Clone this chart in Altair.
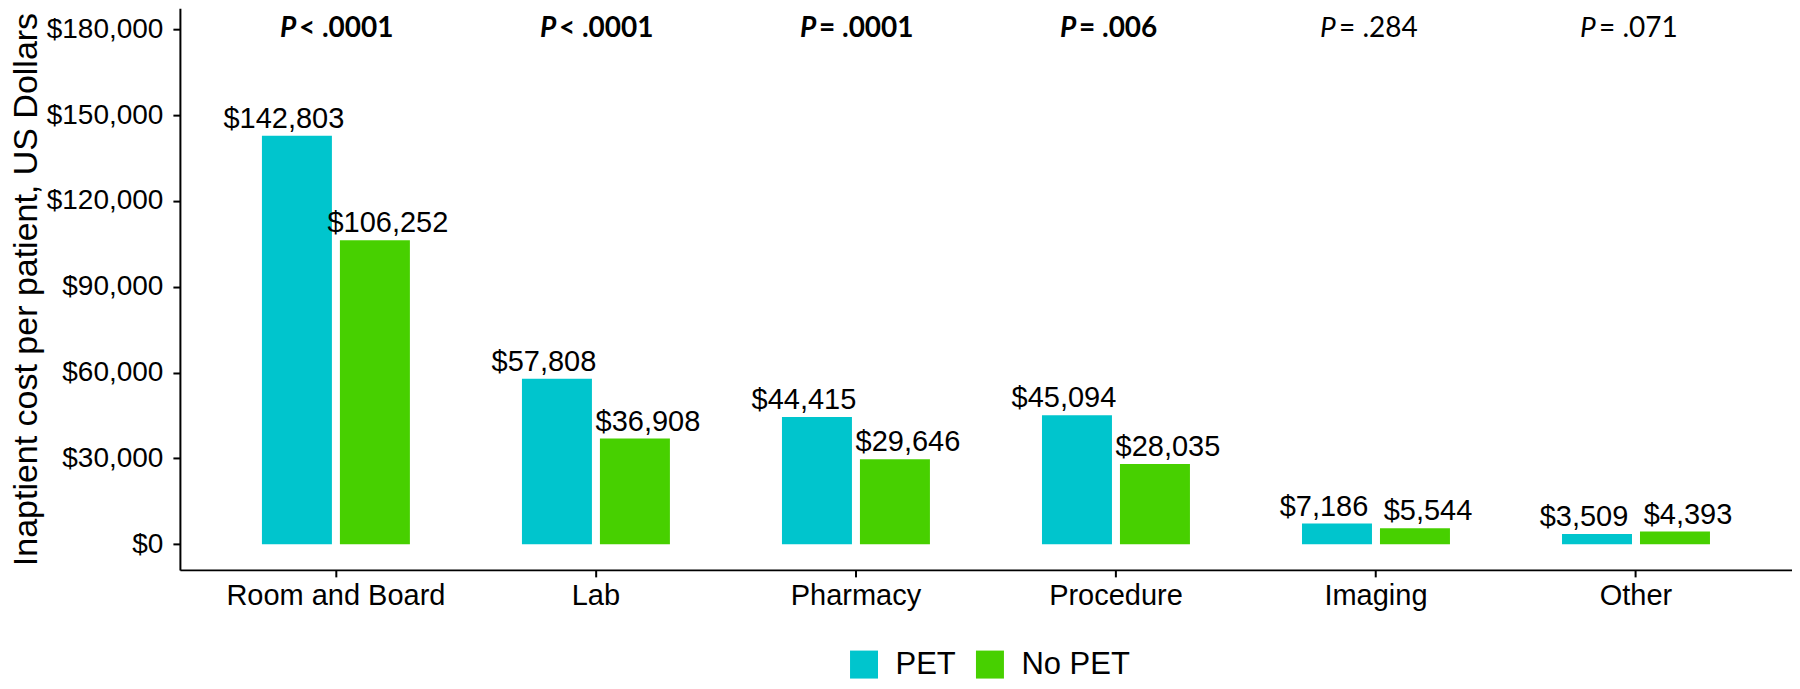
import altair as alt
import pandas as pd

categories = ["Room and Board", "Lab", "Pharmacy", "Procedure", "Imaging", "Other"]
pet_values = [142803, 57808, 44415, 45094, 7186, 3509]
nopet_values = [106252, 36908, 29646, 28035, 5544, 4393]
groups = ["PET", "No PET"]
p_rest = ["< .0001", "< .0001", "= .0001", "= .006", "= .284", "= .071"]
p_bold = [True, True, True, True, False, False]
y_ticks = [0, 30000, 60000, 90000, 120000, 150000, 180000]

rows = []
for c, a, b in zip(categories, pet_values, nopet_values):
    rows.append({"category": c, "group": "PET", "cost": a})
    rows.append({"category": c, "group": "No PET", "cost": b})
df = pd.DataFrame(rows)
pdf = pd.DataFrame({"category": categories, "rest": p_rest, "bold": p_bold, "P": ["P"] * 6})

FONT = "Liberation Sans"
PFONT = "Lato"

x_enc = alt.X("category:N", sort=categories,
              scale=alt.Scale(paddingInner=0.2, paddingOuter=0.2),
              axis=alt.Axis(title=None, labelAngle=0, labelFontSize=29, labelPadding=5,
                            labelLimit=0, labelFont=FONT, labelColor="black"))
y_enc = alt.Y("cost:Q",
              scale=alt.Scale(domain=[-9000, 187400], nice=False, zero=False),
              axis=alt.Axis(title="Inaptient cost per patient, US Dollars", values=y_ticks,
                            format="$,.0f", labelFontSize=28, labelFont=FONT, labelPadding=10,
                            titleFontSize=34, titleFont=FONT, titleFontWeight="normal",
                            titlePadding=3, titleColor="black", labelColor="black"))

color_enc = alt.Color("group:N", sort=groups,
                      scale=alt.Scale(domain=groups, range=["#00C5CD", "#47D000"]),
                      legend=alt.Legend(title=None, orient="none", legendX=669, legendY=641,
                                        direction="horizontal", symbolType="square",
                                        symbolSize=784, symbolStrokeWidth=0,
                                        labelFontSize=31, labelFont=FONT, labelColor="black",
                                        labelOffset=16, columnPadding=18, labelLimit=0))

bars = alt.Chart(df).mark_bar().encode(
    x=x_enc,
    xOffset=alt.XOffset("group:N", sort=groups,
                        scale=alt.Scale(paddingInner=0.1026, paddingOuter=0.385)),
    y=y_enc,
    y2=alt.datum(0),
    color=color_enc,
)

labels = alt.Chart(df).mark_text(baseline="bottom", dy=-2, fontSize=29, font=FONT, color="black").encode(
    x=alt.X("category:N", sort=categories),
    xOffset=alt.XOffset("group:N", sort=groups,
                        scale=alt.Scale(type="point", padding=0.5)),
    y="cost:Q",
    text=alt.Text("cost:Q", format="$,.0f"),
)

def ptext(bold, part, dx, italic):
    base = alt.Chart(pdf).transform_filter(
        alt.datum.bold if bold else ~alt.datum.bold
    )
    return base.mark_text(align="left", baseline="middle", dx=dx, dy=0, fontSize=28, font=PFONT,
                          fontWeight="bold" if bold else "normal",
                          fontStyle="italic" if italic else "normal",
                          color="black").encode(
        x=alt.X("category:N", sort=categories),
        y=alt.datum(180000),
        text=f"{part}:N",
    )

p_layers = [ptext(True, "P", -56, True), ptext(True, "rest", -37, False),
            ptext(False, "P", -56, True), ptext(False, "rest", -37, False)]

chart = alt.layer(bars, labels, *p_layers).resolve_scale(xOffset="independent").properties(
    width=1613, height=562,
    autosize=alt.AutoSizeParams(type="none"),
    padding={"left": 172, "top": 0, "right": 0, "bottom": 118},
).configure_view(stroke=None).configure_axis(
    grid=False, domainColor="black", domainWidth=2, tickColor="black", tickWidth=2, tickSize=7,
)

chart.save("out.html", embed_options={"renderer": "svg", "actions": False})
